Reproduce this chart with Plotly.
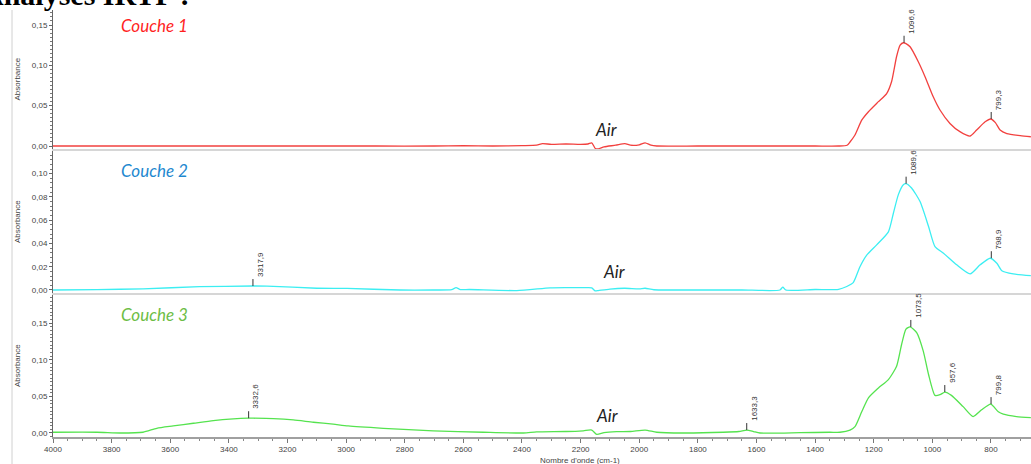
import plotly.graph_objects as go

# ---------------- data ----------------
wn_c1 = [4000, 3900, 3700, 3500, 3300, 3100, 2900, 2700, 2600, 2500, 2400, 2350, 2330, 2300, 2250,
         2200, 2175, 2162, 2150, 2140, 2120, 2080, 2049, 2030, 2000, 1980, 1960, 1940, 1800, 1600,
         1400, 1320, 1291, 1281, 1264, 1241, 1218, 1184, 1156, 1139, 1122, 1110, 1099, 1090, 1076,
         1048, 1025, 997, 974, 940, 906, 871, 849, 820, 801, 785, 769, 746, 700, 664]
abs_c1 = [0, 0, 0, 0, 0, 0, 0, 0, 0.0005, 0, 0.0005, 0.001, 0.003, 0.002, 0.0025,
          0.002, 0.0025, 0.004, -0.003, -0.0035, -0.001, 0.001, 0.003, 0.001, 0.0015, 0.004, 0.001, 0, 0, 0,
          0, 0, 0.001, 0.005, 0.0136, 0.032, 0.0425, 0.055, 0.065, 0.080, 0.111, 0.125, 0.128, 0.127, 0.123,
          0.1045, 0.086, 0.061, 0.0446, 0.028, 0.0178, 0.0124, 0.0198, 0.030, 0.0335, 0.029, 0.0198, 0.0155, 0.0128, 0.0115]

wn_c2 = [4000, 3850, 3693, 3500, 3318, 3270, 3100, 2997, 2816, 2703, 2640, 2625, 2610, 2580, 2418,
         2304, 2250, 2178, 2162, 2150, 2140, 2100, 2050, 2000, 1980, 1950, 1800, 1650, 1520, 1510,
         1500, 1400, 1320, 1292, 1270, 1247, 1224, 1190, 1150, 1133, 1116, 1099, 1090, 1071, 1042,
         1013, 991, 962, 917, 871, 837, 803, 780, 763, 724, 664]
abs_c2 = [0, 0.0003, 0.001, 0.0028, 0.0034, 0.0033, 0.0015, 0.0013, 0, 0, 0.0003, 0.002, 0.0003, 0.0004, -0.0005,
          0.0018, 0.002, 0.002, 0.0018, -0.0008, -0.0005, 0.0008, 0.0015, 0.001, 0.0015, 0.0002, 0, 0, 0, 0.0025,
          0, 0.0004, 0.0006, 0.003, 0.0063, 0.020, 0.030, 0.0388, 0.050, 0.066, 0.082, 0.0905, 0.0914, 0.0877, 0.076,
          0.0546, 0.0373, 0.0316, 0.0216, 0.0138, 0.0216, 0.0273, 0.023, 0.0166, 0.0138, 0.0123]

wn_c3 = [4000, 3850, 3771, 3693, 3646, 3590, 3521, 3453, 3385, 3333, 3317, 3248, 3180, 3112, 3044,
         2993, 2873, 2703, 2532, 2395, 2350, 2250, 2191, 2162, 2145, 2120, 2077, 2030, 1980, 1940,
         1850, 1713, 1660, 1633, 1610, 1588, 1451, 1350, 1315, 1281, 1264, 1241, 1218, 1184, 1150,
         1122, 1105, 1090, 1076, 1053, 1031, 1013, 991, 974, 957, 935, 895, 861, 832, 801,
         775, 758, 713, 664]
abs_c3 = [0.001, 0.001, 0, 0.001, 0.0064, 0.0096, 0.0133, 0.017, 0.0193, 0.0202, 0.0202, 0.0197, 0.0179, 0.0147, 0.012,
          0.0096, 0.0064, 0.0028, 0.001, 0, 0.0014, 0.002, 0.003, 0.004, -0.002, 0.0005, 0.0018, 0.002, 0.004, 0.001,
          0, 0.001, 0.002, 0.004, 0.002, 0, 0.0004, 0.001, 0.001, 0.004, 0.0087, 0.029, 0.048, 0.0615, 0.073,
          0.0913, 0.121, 0.142, 0.145, 0.137, 0.112, 0.080, 0.0514, 0.0523, 0.056, 0.0514, 0.036, 0.0225, 0.0317, 0.0395,
          0.029, 0.0258, 0.0225, 0.021]

peaks_c1_wn = [1096.6, 799.3]
peaks_c1_abs = [0.128, 0.0335]
peaks_c2_wn = [3317.9, 1089.6, 798.9]
peaks_c2_abs = [0.0034, 0.0914, 0.0273]
peaks_c3_wn = [3332.6, 1633.3, 1073.5, 957.6, 799.8]
peaks_c3_abs = [0.0202, 0.004, 0.145, 0.056, 0.0395]

layer_names = ["Couche 1", "Couche 2", "Couche 3"]
x_ticks = [4000, 3800, 3600, 3400, 3200, 3000, 2800, 2600, 2400, 2200, 2000, 1800, 1600, 1400, 1200, 1000, 800]

# ---------------- styling ----------------
W, H = 1031, 464
ML, MR, MT, MB = 53, 0, 10, 27
PW, PH = W - ML - MR, H - MT - MB

def px_x(p):
    return (p - ML) / PW

def px_y(p):
    return (H - MB - p) / PH

line_cols = ["#f2413f", "#3ceef2", "#55e34f"]
label_cols = ["#ff1f1f", "#1e88cf", "#6dbd45"]
panel_px = [(10, 149), (151, 293), (295, 437)]
y_ranges = [[-0.0037, 0.1686], [-0.0026, 0.1195], [-0.0055, 0.1887]]
y_dticks = [0.05, 0.02, 0.05]
y_minor = [0.005, 0.004, 0.005]
x_range = [4000, 663.5]
tick_font = dict(family="Liberation Sans, Arial", size=8, color="#444")

series = [(wn_c1, abs_c1), (wn_c2, abs_c2), (wn_c3, abs_c3)]
peaks = [(peaks_c1_wn, peaks_c1_abs), (peaks_c2_wn, peaks_c2_abs), (peaks_c3_wn, peaks_c3_abs)]

fig = go.Figure()
layout = dict(width=W, height=H, margin=dict(l=ML, r=MR, t=MT, b=MB, autoexpand=False),
              paper_bgcolor="white", plot_bgcolor="white", showlegend=False,
              separators=", ")
annotations = []
shapes = []

for i in range(3):
    sfx = "" if i == 0 else str(i + 1)
    xa, ya = "x" + sfx, "y" + sfx
    fig.add_trace(go.Scatter(x=series[i][0], y=series[i][1], mode="lines",
                             line=dict(color=line_cols[i], width=1.3, shape="spline", smoothing=0.6),
                             xaxis=xa, yaxis=ya, hoverinfo="skip"))
    top, bot = panel_px[i]
    dom = [px_y(bot), px_y(top)]
    last = i == 2
    layout["xaxis" + sfx] = dict(
        domain=[0, 1], range=x_range, anchor=ya, showgrid=False, zeroline=False,
        showline=True, linecolor="#a0a0a0" if last else "#d6d6d6", linewidth=1.5 if last else 2,
        ticks="outside" if last else "", ticklen=4, tickcolor="#777",
        tickvals=x_ticks if last else [], showticklabels=last, tickfont=tick_font,
        tickformat="d",
        minor=dict(ticks="outside", dtick=50, ticklen=2, tickcolor="#888") if last else None,
        matches=None if i == 0 else "x")
    layout["yaxis" + sfx] = dict(
        domain=dom, range=y_ranges[i], anchor=xa, showgrid=False, zeroline=False,
        showline=True, linecolor="#666", linewidth=1, ticks="outside", ticklen=3, tickcolor="#666",
        dtick=y_dticks[i], tick0=0, tickformat=".2f", tickfont=tick_font,
        minor=dict(ticks="outside", dtick=y_minor[i], ticklen=2, tickcolor="#777"))
    # axis title
    annotations.append(dict(xref="paper", yref="paper", x=px_x(17), y=(dom[0] + dom[1]) / 2,
                            xanchor="center", yanchor="middle",
                            text="Absorbance", textangle=-90, showarrow=False,
                            font=dict(family="Liberation Sans, Arial", size=8, color="#444")))
    # layer label
    lab_y = [25, 170, 314][i]
    annotations.append(dict(xref="paper", yref="paper", x=px_x(119), y=px_y(lab_y),
                            xanchor="left", yanchor="middle",
                            text="<i>" + layer_names[i] + "</i>", showarrow=False,
                            font=dict(family="Lato, Open Sans", size=17, color=label_cols[i])))
    # Air label
    ax_, ay_ = [(606, 129), (614, 271), (607, 415)][i]
    annotations.append(dict(xref="paper", yref="paper", x=px_x(ax_), y=px_y(ay_),
                            xanchor="center", yanchor="middle",
                            text="<i>Air</i>", showarrow=False,
                            font=dict(family="Lato, Open Sans", size=17, color="#222")))
    # peak markers
    for pw, pa in zip(*peaks[i]):
        shapes.append(dict(type="line", xref=xa, yref=ya, ysizemode="pixel", yanchor=pa,
                           x0=pw, x1=pw, y0=0, y1=7, line=dict(color="#333", width=1)))
        annotations.append(dict(xref=xa, yref=ya, x=pw, y=pa, xanchor="left", yanchor="bottom",
                                xshift=1, yshift=7, textangle=-90, showarrow=False,
                                text=f"{pw:.1f}".replace(".", ","),
                                font=dict(family="Liberation Sans, Arial", size=8, color="#333")))

# x axis title
annotations.append(dict(xref="paper", yref="paper", x=px_x(580), y=px_y(460),
                        xanchor="center", yanchor="middle",
                        text="Nombre d'onde (cm-1)", showarrow=False,
                        font=dict(family="Liberation Sans, Arial", size=8, color="#444")))
# cropped page heading
annotations.append(dict(xref="paper", yref="paper", x=px_x(-20), y=px_y(13), xanchor="left",
                        yanchor="bottom", text="<b>Analyses IRTF :</b>", showarrow=False,
                        font=dict(family="Liberation Serif", size=30, color="#000")))
# left frame line
shapes.append(dict(type="line", xref="paper", yref="paper", x0=px_x(12), x1=px_x(12),
                   y0=px_y(464), y1=px_y(10), line=dict(color="#d0d0d0", width=1)))

layout["annotations"] = annotations
layout["shapes"] = shapes
fig.update_layout(**layout)
fig.write_html("out.html", config={"displayModeBar": False},
               post_script="document.body.style.margin='0';document.body.style.padding='0';")
